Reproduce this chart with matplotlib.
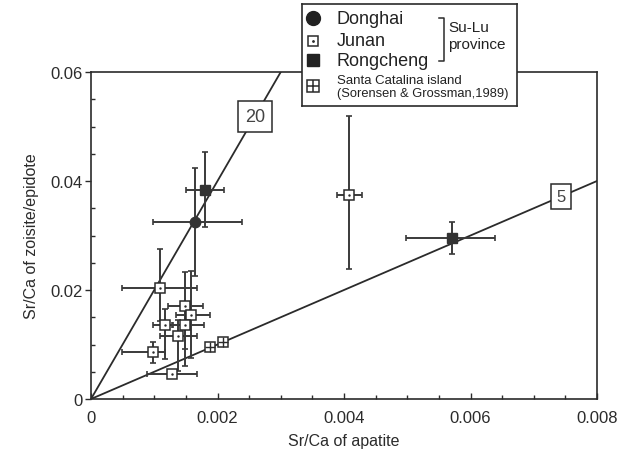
import matplotlib.pyplot as plt
import numpy as np
from matplotlib.ticker import MultipleLocator, FixedFormatter, FixedLocator

plt.rcParams['font.family'] = ['Liberation Sans', 'DejaVu Sans']

# Donghai (filled circle)
donghai_x = [0.00164]
donghai_y = [0.0325]
donghai_xerr = [[0.00066], [0.00075]]
donghai_yerr = [[0.0099], [0.0099]]

# Rongcheng (filled square)
rong_x = [0.00180, 0.00571]
rong_y = [0.0383, 0.0295]
rong_xerr = [[0.0003, 0.00073], [0.0003, 0.00068]]
rong_yerr = [[0.0067, 0.0029], [0.0070, 0.0030]]

# Junan (open square with dot)
junan_x = [0.00408, 0.00109, 0.00149, 0.00158, 0.00117, 0.00149, 0.00138, 0.00098, 0.00128]
junan_y = [0.0374, 0.0204, 0.0171, 0.0155, 0.0136, 0.0136, 0.0116, 0.0086, 0.0046]
junan_xlo = [0.00019, 0.00060, 0.00027, 0.00024, 0.00019, 0.00019, 0.00029, 0.00049, 0.00040]
junan_xhi = [0.00020, 0.00059, 0.00028, 0.00030, 0.00011, 0.00030, 0.00030, 0.00019, 0.00040]
junan_ylo = [0.0135, 0.0060, 0.0110, 0.0080, 0.0063, 0.0044, 0.0065, 0.0020, 0.0]
junan_yhi = [0.0145, 0.0071, 0.0062, 0.0080, 0.0029, 0.0042, 0.0029, 0.0019, 0.0]

# Santa Catalina island (Sorensen & Grossman, 1989)
sc_x = [0.00188, 0.00209]
sc_y = [0.0095, 0.0105]

# reference lines (Sr/Ca ratio)
slopes = [20, 5]
slope_label_x = [0.00259, 0.00743]
slope_label_size = [13, 12]
slope_label_pad = [0.4, 0.3]

ink = '#2b2b2b'

fig = plt.figure(figsize=(6.3, 4.64), dpi=100)
ax = fig.add_axes([91/630, 64/464, 506/630, 327/464])
ax.set_xlim(0, 0.008)
ax.set_ylim(0, 0.06)

for s, lx, fs, pd in zip(slopes, slope_label_x, slope_label_size, slope_label_pad):
    xe = min(0.008, 0.06 / s)
    ax.plot([0, xe], [0, s * xe], color=ink, lw=1.3, zorder=2)
    ax.text(lx, s * lx, str(s), ha='center', va='center', fontsize=fs, color='#444444',
            bbox=dict(boxstyle=f'square,pad={pd}', fc='white', ec=ink, lw=1.1), zorder=4)

ekw = dict(fmt='none', ecolor='#3a3a3a', elinewidth=1.4, capsize=2.5, capthick=1.2, zorder=3)
ax.errorbar(junan_x, junan_y, xerr=[junan_xlo, junan_xhi], yerr=[junan_ylo, junan_yhi], **ekw)
ax.errorbar(donghai_x, donghai_y, xerr=donghai_xerr, yerr=donghai_yerr, **ekw)
ax.errorbar(rong_x, rong_y, xerr=rong_xerr, yerr=rong_yerr, **ekw)

ax.plot(junan_x, junan_y, 's', ms=7, mfc='white', mec=ink, mew=1.1, zorder=5)
ax.plot(junan_x, junan_y, '.', ms=1.5, color=ink, zorder=6)
ax.plot(donghai_x, donghai_y, 'o', ms=7.5, mfc='#333333', mec='#333333', zorder=5)
ax.plot(rong_x, rong_y, 's', ms=7, mfc='#333333', mec='#333333', zorder=5)
ax.plot(sc_x, sc_y, 's', ms=7, mfc='white', mec=ink, mew=1.1, zorder=5)
ax.plot(sc_x, sc_y, '+', ms=7, mec=ink, mew=1.0, zorder=6)

for sp in ax.spines.values():
    sp.set_linewidth(1.2)
    sp.set_color(ink)

ax.xaxis.set_major_locator(FixedLocator([0, 0.002, 0.004, 0.006, 0.008]))
ax.xaxis.set_major_formatter(FixedFormatter(['0', '0.002', '0.004', '0.006', '0.008']))
ax.yaxis.set_major_locator(FixedLocator([0, 0.02, 0.04, 0.06]))
ax.yaxis.set_major_formatter(FixedFormatter(['0', '0.02', '0.04', '0.06']))
ax.xaxis.set_minor_locator(MultipleLocator(0.0005))
ax.yaxis.set_minor_locator(MultipleLocator(0.005))
ax.tick_params(axis='x', which='major', direction='in', length=4, width=1, labelsize=12, pad=8, colors=ink)
ax.tick_params(axis='y', which='major', direction='out', length=4, width=1, labelsize=12, pad=2, colors=ink)
ax.tick_params(which='minor', direction='in', length=3, width=1, colors=ink)
ax.tick_params(top=False, right=False, which='both')

ax.set_xlabel('Sr/Ca of apatite', fontsize=11.5, color=ink, labelpad=6)
ax.set_ylabel('Sr/Ca of zoisite/epidote', fontsize=11.5, color=ink, labelpad=8)

# legend box drawn in pixel units
lg = fig.add_axes([302/630, (464-107)/464, 215/630, 102/464], zorder=10)
lg.set_xlim(0, 215)
lg.set_ylim(102, 0)
lg.set_xticks([])
lg.set_yticks([])
for sp in lg.spines.values():
    sp.set_linewidth(1.2)
    sp.set_color(ink)

lg.plot([11], [14], 'o', ms=10, color='#222222')
lg.plot([11], [37], 's', ms=7.5, mfc='white', mec=ink, mew=1.1)
lg.plot([11], [37], '.', ms=2, color=ink)
lg.plot([11], [56], 's', ms=9, color='#222222')
lg.plot([11], [82], 's', ms=9, mfc='white', mec=ink, mew=1.1)
lg.plot([11], [82], '+', ms=9, mec=ink, mew=1.1)

lg.text(35, 14, 'Donghai', fontsize=13, va='center', color='#222222')
lg.text(35, 36, 'Junan', fontsize=13, va='center', color='#222222')
lg.text(35, 56, 'Rongcheng', fontsize=13, va='center', color='#222222')
lg.text(35, 76, 'Santa Catalina island', fontsize=9.5, va='center', color='#222222')
lg.text(35, 89, '(Sorensen & Grossman,1989)', fontsize=9.3, va='center', color='#222222')

lg.plot([137, 142, 142, 137], [14, 14, 57, 57], color=ink, lw=1.1)
lg.text(146, 23, 'Su-Lu', fontsize=11, va='center', color='#222222')
lg.text(146, 40, 'province', fontsize=11, va='center', color='#222222')

fig.savefig('out.png', dpi=100)
